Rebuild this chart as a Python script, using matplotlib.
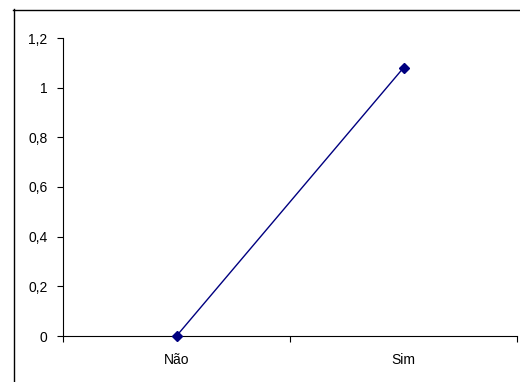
import matplotlib.pyplot as plt
from matplotlib.lines import Line2D
from matplotlib.ticker import FuncFormatter

categories = ['Não', 'Sim']
values = [0.0, 1.08]
yticks = [0, 0.2, 0.4, 0.6, 0.8, 1.0, 1.2]

plt.rcParams['font.family'] = ['Liberation Sans', 'DejaVu Sans']

fig = plt.figure(figsize=(5.2, 3.82), dpi=100)
ax = fig.add_axes([63 / 520, 1 - 336 / 382, 454 / 520, (336 - 38) / 382])

x = [i + 0.5 for i in range(len(categories))]
ax.plot(x, values, color='#000080', lw=1, marker='D', ms=5,
        markerfacecolor='#000080', markeredgecolor='#000080', clip_on=False, zorder=3)

ax.set_xlim(0, len(categories))
ax.set_ylim(0, 1.2)
ax.set_yticks(yticks)
ax.yaxis.set_major_formatter(FuncFormatter(lambda v, p: ('%g' % round(v, 1)).replace('.', ',')))

ax.set_xticks(range(len(categories) + 1))
ax.set_xticklabels([])
ax.set_xticks(x, minor=True)
ax.set_xticklabels(categories, minor=True)
ax.tick_params(axis='x', which='minor', length=0, pad=12, labelsize=10)
ax.tick_params(axis='x', which='major', length=4, width=0.8)
ax.tick_params(axis='y', length=4, width=0.8, labelsize=10, pad=7)

for s in ['top', 'right']:
    ax.spines[s].set_visible(False)
for s in ['left', 'bottom']:
    ax.spines[s].set_linewidth(0.8)

# outer chart frame (cut off at right and bottom)
fig.add_artist(Line2D([13.5 / 520, 13.5 / 520], [1 - 9 / 382, 0], color='black', lw=1,
                      transform=fig.transFigure))
fig.add_artist(Line2D([13 / 520, 1], [1 - 9.5 / 382, 1 - 9.5 / 382], color='black', lw=1,
                      transform=fig.transFigure))

fig.savefig('out.png', dpi=100)
